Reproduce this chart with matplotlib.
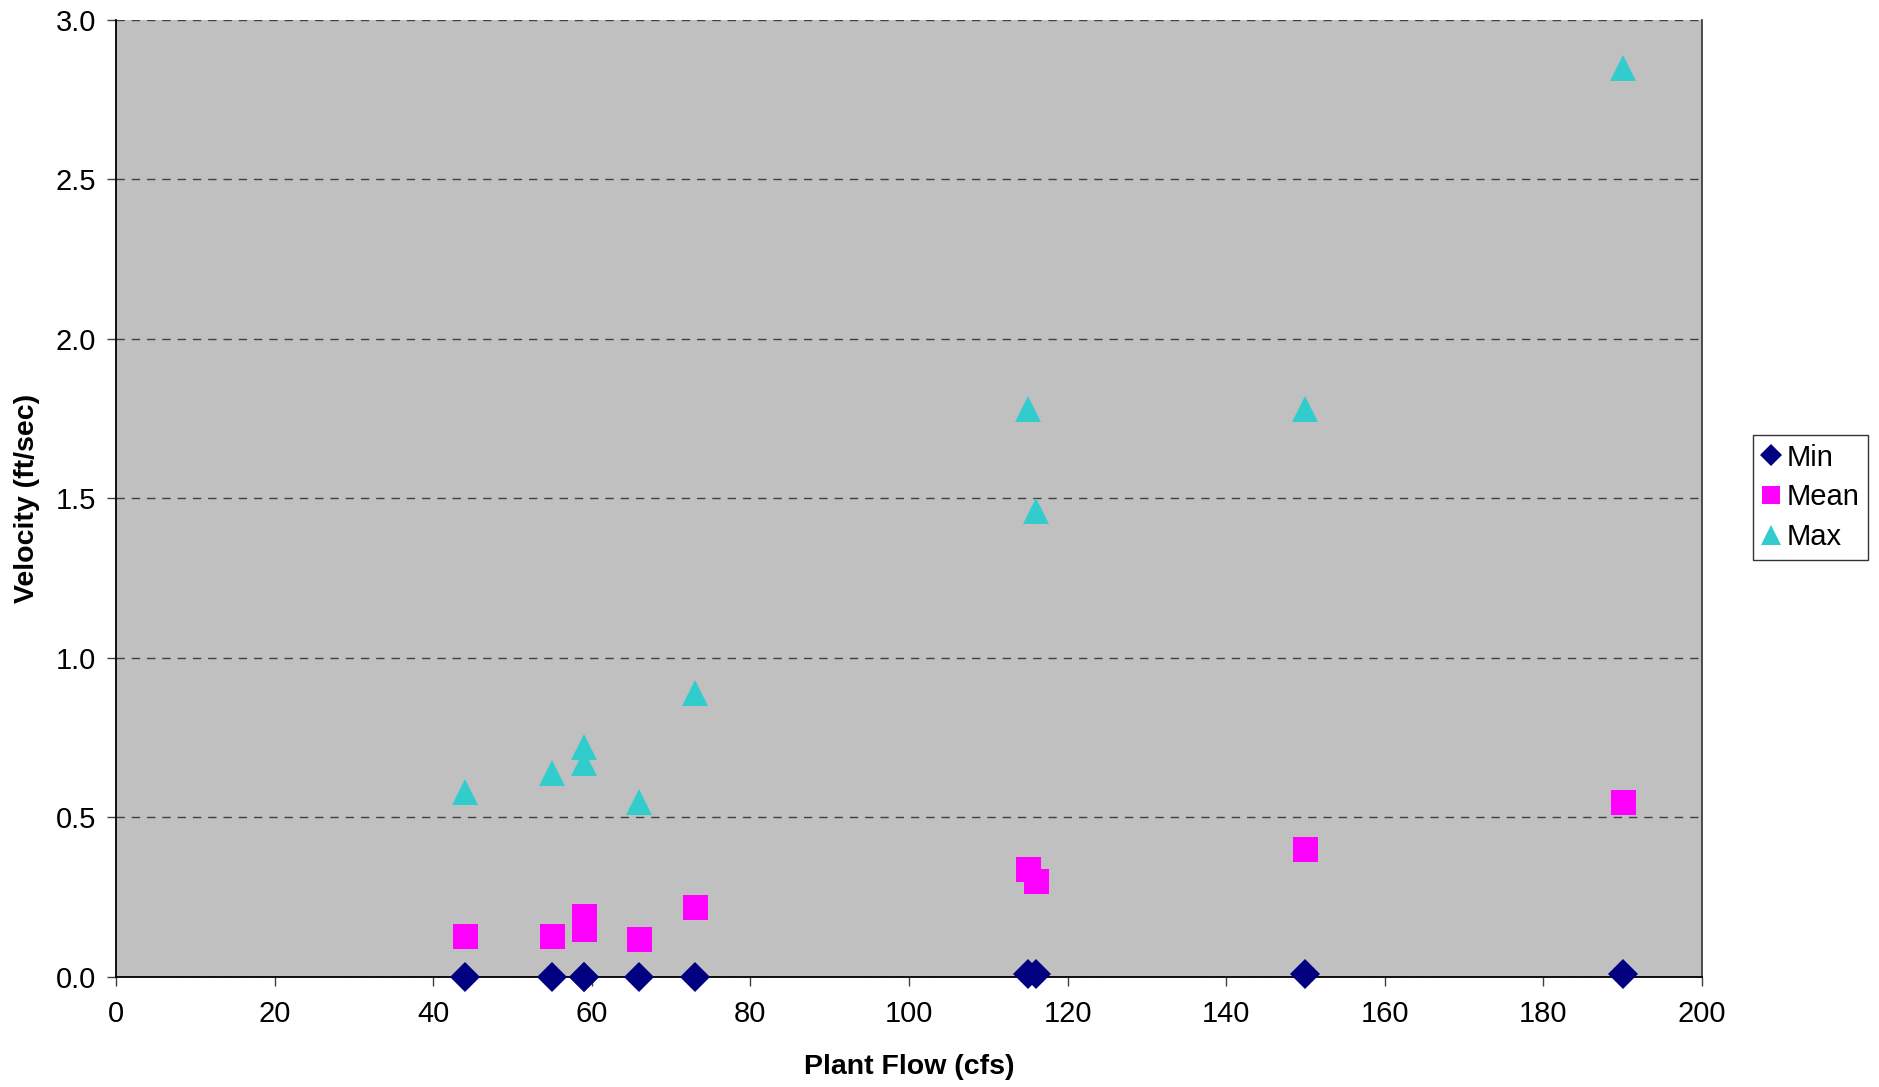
import matplotlib
matplotlib.use("Agg")
import matplotlib.pyplot as plt

plt.rcParams['font.family'] = ['Liberation Sans', 'DejaVu Sans']

# plant flow (cfs) for each measurement
flow = [44, 55, 59, 59, 66, 73, 115, 116, 150, 190]

# velocities (ft/sec)
vel_min = [0.0, 0.0, 0.0, 0.0, 0.0, 0.0, 0.01, 0.01, 0.01, 0.01]
vel_mean = [0.13, 0.13, 0.19, 0.15, 0.12, 0.22, 0.34, 0.30, 0.40, 0.55]
vel_max = [0.58, 0.64, 0.72, 0.67, 0.55, 0.89, 1.78, 1.46, 1.78, 2.85]

x_ticks = [0, 20, 40, 60, 80, 100, 120, 140, 160, 180, 200]
y_ticks = [0.0, 0.5, 1.0, 1.5, 2.0, 2.5, 3.0]

fig = plt.figure(figsize=(18.79, 10.87), dpi=100)
ax = fig.add_axes([0.0617, 0.1012, 0.8441, 0.8804])
ax.set_facecolor('#C0C0C0')

ax.plot(flow, vel_min, linestyle='none', marker='D', markersize=15,
        color='#000080', markeredgewidth=0, label='Min', clip_on=False, zorder=3)
ax.plot(flow, vel_mean, linestyle='none', marker='s', markersize=18,
        color='#FF00FF', markeredgewidth=0, label='Mean', clip_on=False, zorder=3)
ax.plot(flow, vel_max, linestyle='none', marker='^', markersize=19,
        color='#33CCCC', markeredgewidth=0, label='Max', clip_on=False, zorder=3)

ax.set_xlim(0, 200)
ax.set_ylim(0, 3.0)
ax.set_xticks(x_ticks)
ax.set_yticks(y_ticks)
ax.set_yticklabels([f"{v:.1f}" for v in y_ticks])
ax.tick_params(direction='out', length=6.5, width=1, labelsize=21, pad=8,
               color='#404040')
ax.tick_params(axis='x', pad=10)

# dashed horizontal gridlines
ax.yaxis.grid(True, linestyle=(0, (6, 5)), color='#404040', linewidth=1)
ax.set_axisbelow(True)

ax.spines['top'].set_visible(False)
ax.spines['left'].set_color('#000000')
ax.spines['bottom'].set_color('#000000')
ax.spines['right'].set_color('#404040')
for s in ax.spines.values():
    s.set_linewidth(1.3)

ax.set_xlabel('Plant Flow (cfs)', fontsize=20.5, fontweight='bold', va='center')
ax.set_ylabel('Velocity (ft/sec)', fontsize=20.5, fontweight='bold', va='center')
ax.xaxis.set_label_coords(0.5, -0.094)
ax.yaxis.set_label_coords(-0.056, 0.5)

leg = ax.legend(loc='upper left', bbox_to_anchor=(0.933, 0.60),
                bbox_transform=fig.transFigure, borderaxespad=0,
                fontsize=21, markerscale=0.75, handlelength=0.6,
                handletextpad=0.25, borderpad=0.3, labelspacing=0.4,
                fancybox=False, frameon=True, edgecolor='#000000')
leg.get_frame().set_linewidth(1)

fig.savefig('out.png', dpi=100)
